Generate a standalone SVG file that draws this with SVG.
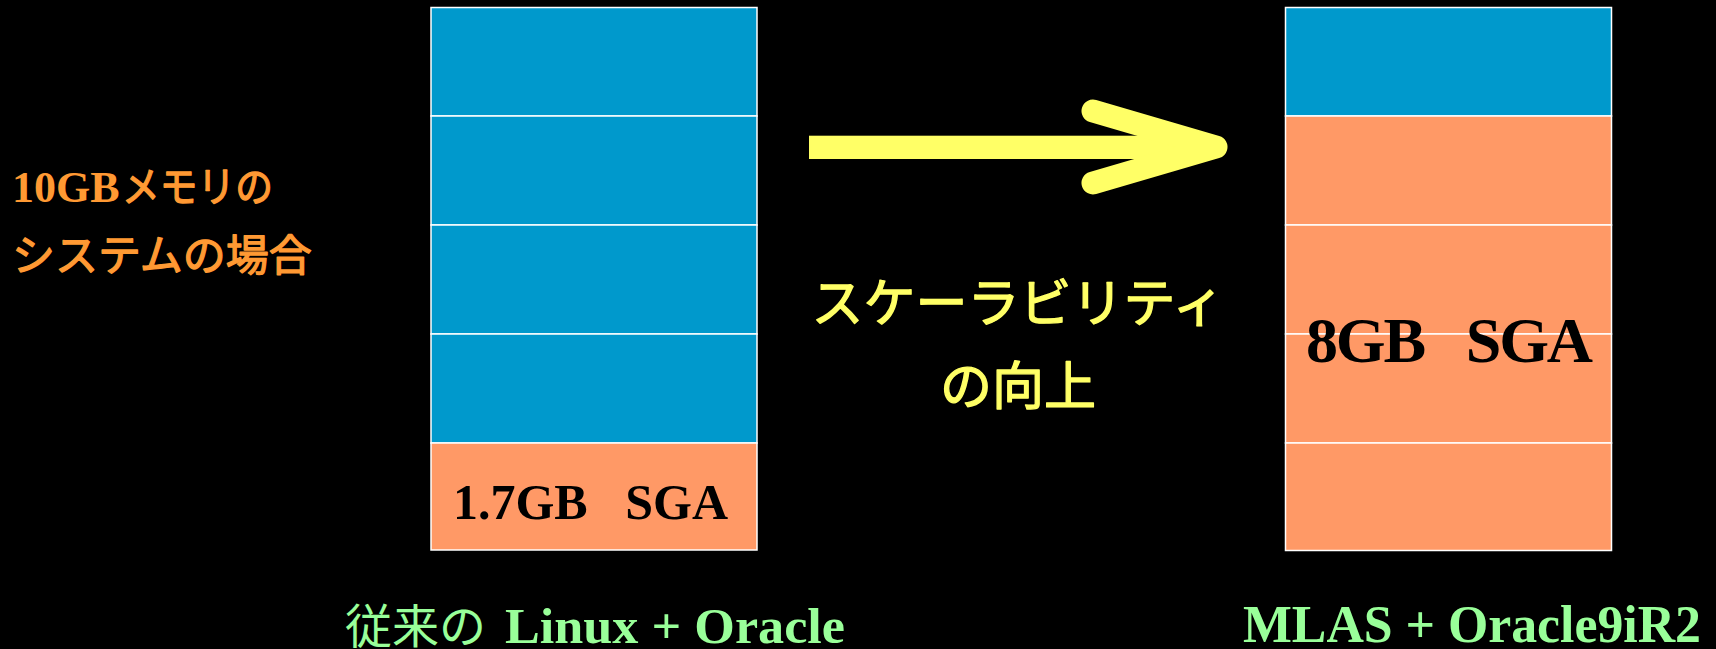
<svg xmlns="http://www.w3.org/2000/svg" width="1716" height="649" viewBox="0 0 1716 649">
<defs>
<style>
.blue{fill:#0099CC;stroke:#FFFFFF;stroke-width:1.5}
.orange{fill:#FF9966;stroke:#FFFFFF;stroke-width:1.5}
.sga{font-family:"Liberation Serif","Times New Roman",serif;font-weight:bold;fill:#000000;white-space:pre}
.lat{font-family:"Liberation Serif","Times New Roman",serif;font-weight:bold}
.jp{font-family:"Noto Sans CJK JP","Noto Sans",sans-serif;font-weight:normal}
.jpb{font-family:"Noto Sans CJK JP","Noto Sans",sans-serif;font-weight:normal;stroke-width:1.3;stroke-linejoin:round}
.green{fill:#99FF99}
.ora{fill:#FF9933}
.jpb.ora{stroke:#FF9933}
.yel{fill:#FFFF66}
.jpb.yel{stroke:#FFFF66}
</style>
</defs>
<rect x="0" y="0" width="1716" height="649" fill="#000000"/>
<g id="title-label">
<text x="12" y="202" font-size="44" class="ora lat">10GB</text>
<text x="122" y="202" font-size="42" class="ora jpb" textLength="151" lengthAdjust="spacingAndGlyphs">メモリの</text>
<text x="12" y="271" font-size="43" class="ora jpb">システムの場合</text>
</g>
<g id="left-stack">
<rect class="blue" x="431" y="7.5" width="326" height="108.5"/>
<rect class="blue" x="431" y="116" width="326" height="109"/>
<rect class="blue" x="431" y="225" width="326" height="109"/>
<rect class="blue" x="431" y="334" width="326" height="109"/>
<rect class="orange" x="431" y="443" width="326" height="107"/>
<text class="sga" x="453" y="519" font-size="50" textLength="275" lengthAdjust="spacing" xml:space="preserve">1.7GB   SGA</text>
</g>
<g id="right-stack">
<rect class="blue" x="1285.5" y="7.5" width="326" height="108.5"/>
<rect class="orange" x="1285.5" y="116" width="326" height="109"/>
<rect class="orange" x="1285.5" y="225" width="326" height="109"/>
<rect class="orange" x="1285.5" y="334" width="326" height="109"/>
<rect class="orange" x="1285.5" y="443" width="326" height="107.5"/>
<text class="sga" x="1306" y="362" font-size="64" textLength="287" lengthAdjust="spacing" xml:space="preserve">8GB   SGA</text>
</g>
<g id="connectors">
<rect x="809" y="135.7" width="395" height="23.3" fill="#FFFF66"/>
<polyline points="1093,111 1216,147 1093,183" fill="none" stroke="#FFFF66" stroke-width="23" stroke-linecap="round" stroke-linejoin="round"/>
</g>
<g id="arrow-label">
<text x="1018" y="322" font-size="52" text-anchor="middle" class="yel jpb">スケーラビリティ</text>
<text x="1018" y="405" font-size="52" text-anchor="middle" class="yel jpb">の向上</text>
</g>
<g id="left-caption">
<text x="345" y="643" font-size="47" class="green jp">従来の</text>
<text x="505" y="643" font-size="50" class="green lat" textLength="340" lengthAdjust="spacingAndGlyphs">Linux + Oracle</text>
</g>
<g id="right-caption">
<text x="1243" y="642" font-size="52" class="green lat" textLength="458" lengthAdjust="spacingAndGlyphs">MLAS + Oracle9iR2</text>
</g>
</svg>
